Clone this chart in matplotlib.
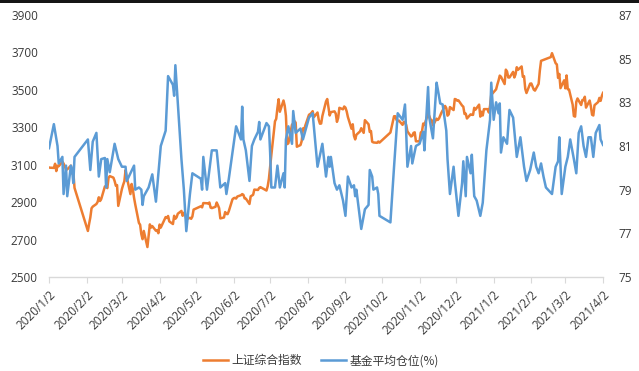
import numpy as np
import pandas as pd
import matplotlib
matplotlib.use("Agg")
import matplotlib.pyplot as plt
import matplotlib.dates as mdates
from matplotlib.patches import Rectangle

plt.rcParams['font.family'] = ['Open Sans', 'Noto Sans CJK SC', 'DejaVu Sans']

# 上证综合指数 (收盘)
sh_dates = [
    "2020-01-02", "2020-01-03", "2020-01-06", "2020-01-07", "2020-01-08", "2020-01-09", "2020-01-10",
    "2020-01-13", "2020-01-14", "2020-01-15", "2020-01-16", "2020-01-17", "2020-01-20", "2020-01-21",
    "2020-01-22", "2020-01-23",
    "2020-02-03", "2020-02-04", "2020-02-05", "2020-02-06", "2020-02-07", "2020-02-10", "2020-02-11",
    "2020-02-12", "2020-02-13", "2020-02-14", "2020-02-17", "2020-02-18", "2020-02-19", "2020-02-20",
    "2020-02-21", "2020-02-24", "2020-02-25", "2020-02-26", "2020-02-27", "2020-02-28",
    "2020-03-02", "2020-03-03", "2020-03-04", "2020-03-05", "2020-03-06", "2020-03-09", "2020-03-10",
    "2020-03-11", "2020-03-12", "2020-03-13", "2020-03-16", "2020-03-17", "2020-03-18", "2020-03-19",
    "2020-03-20", "2020-03-23", "2020-03-24", "2020-03-25", "2020-03-26", "2020-03-27", "2020-03-30",
    "2020-03-31",
    "2020-04-01", "2020-04-02", "2020-04-03", "2020-04-07", "2020-04-08", "2020-04-09", "2020-04-10",
    "2020-04-13", "2020-04-14", "2020-04-15", "2020-04-16", "2020-04-17", "2020-04-20", "2020-04-21",
    "2020-04-22", "2020-04-23", "2020-04-24", "2020-04-27", "2020-04-28", "2020-04-29", "2020-04-30",
    "2020-05-06", "2020-05-07", "2020-05-08", "2020-05-11", "2020-05-12", "2020-05-13", "2020-05-14",
    "2020-05-15", "2020-05-18", "2020-05-19", "2020-05-20", "2020-05-21", "2020-05-22", "2020-05-25",
    "2020-05-26", "2020-05-27", "2020-05-28", "2020-05-29",
    "2020-06-01", "2020-06-02", "2020-06-03", "2020-06-04", "2020-06-05", "2020-06-08", "2020-06-09",
    "2020-06-10", "2020-06-11", "2020-06-12", "2020-06-15", "2020-06-16", "2020-06-17", "2020-06-18",
    "2020-06-19", "2020-06-22", "2020-06-23", "2020-06-24", "2020-06-29", "2020-06-30",
    "2020-07-01", "2020-07-02", "2020-07-03", "2020-07-06", "2020-07-07", "2020-07-08", "2020-07-09",
    "2020-07-10", "2020-07-13", "2020-07-14", "2020-07-15", "2020-07-16", "2020-07-17", "2020-07-20",
    "2020-07-21", "2020-07-22", "2020-07-23", "2020-07-24", "2020-07-27", "2020-07-28", "2020-07-29",
    "2020-07-30", "2020-07-31",
    "2020-08-03", "2020-08-04", "2020-08-05", "2020-08-06", "2020-08-07", "2020-08-10", "2020-08-11",
    "2020-08-12", "2020-08-13", "2020-08-14", "2020-08-17", "2020-08-18", "2020-08-19", "2020-08-20",
    "2020-08-21", "2020-08-24", "2020-08-25", "2020-08-26", "2020-08-27", "2020-08-28", "2020-08-31",
    "2020-09-01", "2020-09-02", "2020-09-03", "2020-09-04", "2020-09-07", "2020-09-08", "2020-09-09",
    "2020-09-10", "2020-09-11", "2020-09-14", "2020-09-15", "2020-09-16", "2020-09-17", "2020-09-18",
    "2020-09-21", "2020-09-22", "2020-09-23", "2020-09-24", "2020-09-25", "2020-09-28", "2020-09-29",
    "2020-09-30",
    "2020-10-09", "2020-10-12", "2020-10-13", "2020-10-14", "2020-10-15", "2020-10-16", "2020-10-19",
    "2020-10-20", "2020-10-21", "2020-10-22", "2020-10-23", "2020-10-26", "2020-10-27", "2020-10-28",
    "2020-10-29", "2020-10-30",
    "2020-11-02", "2020-11-03", "2020-11-04", "2020-11-05", "2020-11-06", "2020-11-09", "2020-11-10",
    "2020-11-11", "2020-11-12", "2020-11-13", "2020-11-16", "2020-11-17", "2020-11-18", "2020-11-19",
    "2020-11-20", "2020-11-23", "2020-11-24", "2020-11-25", "2020-11-26", "2020-11-27", "2020-11-30",
    "2020-12-01", "2020-12-02", "2020-12-03", "2020-12-04", "2020-12-07", "2020-12-08", "2020-12-09",
    "2020-12-10", "2020-12-11", "2020-12-14", "2020-12-15", "2020-12-16", "2020-12-17", "2020-12-18",
    "2020-12-21", "2020-12-22", "2020-12-23", "2020-12-24", "2020-12-25", "2020-12-28", "2020-12-29",
    "2020-12-30", "2020-12-31",
    "2021-01-04", "2021-01-05", "2021-01-06", "2021-01-07", "2021-01-08", "2021-01-11", "2021-01-12",
    "2021-01-13", "2021-01-14", "2021-01-15", "2021-01-18", "2021-01-19", "2021-01-20", "2021-01-21",
    "2021-01-22", "2021-01-25", "2021-01-26", "2021-01-27", "2021-01-28", "2021-01-29",
    "2021-02-01", "2021-02-02", "2021-02-03", "2021-02-04", "2021-02-05", "2021-02-08", "2021-02-09",
    "2021-02-10", "2021-02-18", "2021-02-19", "2021-02-22", "2021-02-23", "2021-02-24", "2021-02-25",
    "2021-02-26",
    "2021-03-01", "2021-03-02", "2021-03-03", "2021-03-04", "2021-03-05", "2021-03-08", "2021-03-09",
    "2021-03-10", "2021-03-11", "2021-03-12", "2021-03-15", "2021-03-16", "2021-03-17", "2021-03-18",
    "2021-03-19", "2021-03-22", "2021-03-23", "2021-03-24", "2021-03-25", "2021-03-26", "2021-03-29",
    "2021-03-30", "2021-03-31", "2021-04-01", "2021-04-02",
]
sh_close = [
    3085, 3084, 3083, 3105, 3066, 3095, 3092,
    3116, 3106, 3090, 3074, 3075, 3095, 3053,
    3061, 2976,
    2746, 2784, 2818, 2867, 2876, 2890, 2901,
    2926, 2906, 2917, 2984, 2984, 2975, 3030,
    3039, 3031, 3013, 2988, 2991, 2880,
    2970, 2992, 3011, 3071, 3034, 2943, 2997,
    2969, 2923, 2887, 2789, 2779, 2728, 2702,
    2746, 2660, 2722, 2781, 2764, 2772, 2747,
    2750,
    2734, 2780, 2764, 2820, 2815, 2826, 2797,
    2783, 2827, 2811, 2819, 2838, 2853, 2827,
    2843, 2838, 2809, 2816, 2811, 2823, 2860,
    2878, 2872, 2895, 2894, 2892, 2898, 2871,
    2868, 2875, 2898, 2884, 2868, 2813, 2818,
    2847, 2837, 2836, 2852,
    2915, 2921, 2923, 2919, 2930, 2937, 2943,
    2939, 2920, 2919, 2890, 2931, 2935, 2939,
    2967, 2965, 2976, 2980, 2962, 2985,
    3025, 3090, 3152, 3332, 3345, 3403, 3450,
    3383, 3443, 3415, 3361, 3210, 3214, 3314,
    3320, 3333, 3325, 3196, 3205, 3227, 3294,
    3286, 3310,
    3367, 3371, 3377, 3386, 3354, 3379, 3340,
    3319, 3320, 3360, 3438, 3451, 3408, 3363,
    3381, 3385, 3373, 3329, 3350, 3404, 3396,
    3411, 3405, 3385, 3355, 3292, 3316, 3255,
    3235, 3260, 3278, 3295, 3283, 3270, 3338,
    3316, 3275, 3280, 3223, 3219, 3217, 3224,
    3218,
    3272, 3359, 3359, 3340, 3332, 3336, 3313,
    3329, 3325, 3312, 3278, 3251, 3254, 3270,
    3273, 3225,
    3225, 3272, 3278, 3320, 3312, 3373, 3360,
    3342, 3338, 3310, 3346, 3339, 3347, 3363,
    3378, 3414, 3402, 3362, 3369, 3408, 3392,
    3451, 3449, 3442, 3444, 3416, 3410, 3371,
    3373, 3347, 3369, 3367, 3366, 3404, 3394,
    3421, 3357, 3383, 3363, 3397, 3397, 3379,
    3414, 3473,
    3503, 3528, 3550, 3576, 3570, 3531, 3608,
    3598, 3566, 3566, 3596, 3566, 3583, 3621,
    3607, 3625, 3570, 3573, 3505, 3483,
    3533, 3534, 3517, 3501, 3496, 3532, 3603,
    3655, 3675, 3696, 3642, 3636, 3564, 3585,
    3509,
    3551, 3508, 3577, 3503, 3502, 3421, 3360,
    3357, 3436, 3454, 3419, 3446, 3445, 3463,
    3405, 3443, 3411, 3367, 3363, 3418, 3435,
    3457, 3441, 3467, 3484,
]

# 基金平均仓位 (%)
fund_dates = [
    "2020-01-02", "2020-01-06", "2020-01-09", "2020-01-10", "2020-01-13", "2020-01-14", "2020-01-16",
    "2020-01-17", "2020-01-20", "2020-01-21", "2020-01-22", "2020-01-23", "2020-02-03", "2020-02-05",
    "2020-02-07", "2020-02-10", "2020-02-12", "2020-02-14", "2020-02-17", "2020-02-18", "2020-02-19",
    "2020-02-21", "2020-02-25", "2020-02-28", "2020-03-02", "2020-03-05", "2020-03-06", "2020-03-09",
    "2020-03-12", "2020-03-13", "2020-03-16", "2020-03-18", "2020-03-19", "2020-03-20", "2020-03-24",
    "2020-03-27", "2020-03-30", "2020-04-03", "2020-04-07", "2020-04-09", "2020-04-13", "2020-04-14",
    "2020-04-15", "2020-04-20", "2020-04-22", "2020-04-24", "2020-04-27", "2020-04-29", "2020-05-06",
    "2020-05-07", "2020-05-08", "2020-05-11", "2020-05-15", "2020-05-19", "2020-05-22", "2020-05-26",
    "2020-05-27", "2020-05-29", "2020-06-04", "2020-06-08", "2020-06-09", "2020-06-10", "2020-06-12",
    "2020-06-15", "2020-06-17", "2020-06-19", "2020-06-22", "2020-06-23", "2020-06-24", "2020-06-29",
    "2020-07-01", "2020-07-02", "2020-07-03", "2020-07-06", "2020-07-08", "2020-07-10", "2020-07-13",
    "2020-07-14", "2020-07-15", "2020-07-17", "2020-07-20", "2020-07-21", "2020-07-23", "2020-07-27",
    "2020-07-29", "2020-08-03", "2020-08-06", "2020-08-10", "2020-08-14", "2020-08-17", "2020-08-19",
    "2020-08-20", "2020-08-21", "2020-08-24", "2020-08-26", "2020-08-28", "2020-08-31", "2020-09-02",
    "2020-09-04", "2020-09-07", "2020-09-09", "2020-09-10", "2020-09-11", "2020-09-15", "2020-09-18",
    "2020-09-21", "2020-09-22", "2020-09-24", "2020-09-25", "2020-09-28", "2020-09-29", "2020-09-30",
    "2020-10-09", "2020-10-12", "2020-10-15", "2020-10-19", "2020-10-21", "2020-10-22", "2020-10-23",
    "2020-10-26", "2020-10-27", "2020-10-30", "2020-11-02", "2020-11-05", "2020-11-06", "2020-11-09",
    "2020-11-10", "2020-11-13", "2020-11-16", "2020-11-17", "2020-11-19", "2020-11-21", "2020-11-24",
    "2020-11-25", "2020-11-27", "2020-11-30", "2020-12-01", "2020-12-04", "2020-12-07", "2020-12-08",
    "2020-12-10", "2020-12-11", "2020-12-14", "2020-12-15", "2020-12-17", "2020-12-19", "2020-12-22",
    "2020-12-24", "2020-12-27", "2020-12-30", "2020-12-31", "2021-01-02", "2021-01-04", "2021-01-06",
    "2021-01-07", "2021-01-08", "2021-01-10", "2021-01-13", "2021-01-15", "2021-01-18", "2021-01-19",
    "2021-01-21", "2021-01-24", "2021-01-27", "2021-01-29", "2021-02-01", "2021-02-04", "2021-02-06",
    "2021-02-08", "2021-02-10", "2021-02-12", "2021-02-14", "2021-02-19", "2021-02-22", "2021-02-24",
    "2021-02-25", "2021-02-27", "2021-03-02", "2021-03-04", "2021-03-06", "2021-03-09", "2021-03-11",
    "2021-03-13", "2021-03-15", "2021-03-17", "2021-03-19", "2021-03-21", "2021-03-23", "2021-03-25",
    "2021-03-27", "2021-03-30", "2021-03-31", "2021-04-02",
]
fund_pos = [
    80.9, 82.0, 81.0, 80.2, 80.5, 78.8, 80.1,
    78.7, 80.1, 79.9, 79.3, 80.5, 81.3, 79.9,
    81.2, 81.6, 79.6, 80.4, 80.45, 79.1, 80.4,
    79.8, 81.1, 80.4, 80.05, 80.05, 79.4, 79.75,
    80.1, 79.0, 79.1, 79.0, 78.3, 78.7, 79.1,
    79.7, 78.45, 81.0, 81.7, 84.2, 83.8, 83.3,
    84.7, 80.4, 79.0, 77.1, 78.8, 79.75, 79.5,
    79.0, 80.5, 79.0, 80.8, 80.8, 79.1, 79.3,
    78.8, 79.5, 81.9, 81.3, 82.8, 81.3, 80.8,
    79.4, 81.0, 81.3, 81.65, 82.1, 81.3, 82.05,
    81.9, 80.7, 79.1, 79.1, 80.1, 79.1, 79.75,
    79.1, 81.3, 81.9, 81.1, 82.6, 81.6, 81.8,
    81.3, 82.3, 82.5, 80.05, 81.1, 79.6, 80.5,
    80.05, 80.5, 79.3, 79.0, 79.2, 78.5, 77.8,
    79.6, 79.1, 79.2, 78.7, 79.0, 77.2, 78.1,
    78.3, 79.9, 79.6, 79.0, 79.1, 78.8, 77.8,
    77.5, 80.05, 82.5, 82.2, 82.9, 81.6, 80.05,
    81.0, 80.2, 81.0, 81.1, 81.65, 80.8, 83.7,
    82.3, 81.35, 83.9, 83.6, 82.95, 82.9, 81.7,
    80.4, 78.8, 80.05, 79.4, 77.8, 79.3, 80.3,
    78.7, 80.5, 79.75, 80.6, 78.7, 78.5, 77.8,
    78.4, 80.8, 82.2, 83.9, 82.2, 83.0, 82.5,
    82.95, 80.7, 81.4, 81.1, 82.65, 82.3, 81.7,
    80.5, 81.4, 80.05, 79.4, 79.9, 80.7, 80.05,
    79.75, 80.2, 79.6, 79.1, 78.8, 80.05, 80.3,
    81.4, 78.8, 80.05, 80.5, 81.3, 80.4, 79.75,
    81.6, 81.9, 81.0, 80.5, 81.4, 81.4, 80.5,
    81.6, 81.96, 81.3, 81.05,
]

left_ticks = [2500, 2700, 2900, 3100, 3300, 3500, 3700, 3900]
right_ticks = [75, 77, 79, 81, 83, 85, 87]
month_ticks = pd.date_range("2020-01-01", "2021-04-01", freq="MS") + pd.Timedelta(days=1)
month_labels = ["{}/{}/{}".format(d.year, d.month, d.day) for d in month_ticks]

orange = "#ED7D31"
blue = "#5B9BD5"
txt = "#3a3a3a"

fig = plt.figure(figsize=(6.39, 3.71), dpi=100)
ax = fig.add_axes([0.0767, 0.2534, 0.8670, 0.7062])
ax2 = ax.twinx()

l1, = ax.plot(pd.to_datetime(sh_dates), sh_close, color=orange, lw=1.8, label="上证综合指数")
l2, = ax2.plot(pd.to_datetime(fund_dates), fund_pos, color=blue, lw=1.8, label="基金平均仓位(%)")

ax.set_ylim(2500, 3900)
ax2.set_ylim(75, 87)
ax.set_yticks(left_ticks)
ax2.set_yticks(right_ticks)
ax.set_xlim(month_ticks[0], month_ticks[-1])
ax.set_xticks(month_ticks)
ax.set_xticklabels(month_labels, rotation=45, ha="right", rotation_mode="anchor")

for a in (ax, ax2):
    for s in ("top", "left", "right"):
        a.spines[s].set_visible(False)
    a.spines["bottom"].set_color("#D9D9D9")
    a.spines["bottom"].set_linewidth(1.0)
ax2.spines["bottom"].set_visible(False)

ax.tick_params(axis="y", length=0, pad=8, labelsize=8.5, labelcolor=txt)
ax2.tick_params(axis="y", length=0, pad=11, labelsize=8.5, labelcolor=txt)
ax.tick_params(axis="x", length=4, width=0.8, color="#D9D9D9", pad=4, labelsize=8.5, labelcolor=txt)

fig.legend(handles=[l1, l2], loc="center", bbox_to_anchor=(0.502, 0.028), ncol=2,
           frameon=False, labelcolor=txt, handlelength=2.1,
           handletextpad=0.3, columnspacing=1.6,
           prop={"family": ["Noto Sans CJK SC", "DejaVu Sans"], "size": 8.5})

# dark strip along the top edge of the screenshot
fig.add_artist(Rectangle((0, 1 - 3 / 371), 1, 3 / 371, transform=fig.transFigure,
                         color="#151515", lw=0))

fig.savefig("out.png", dpi=100)
